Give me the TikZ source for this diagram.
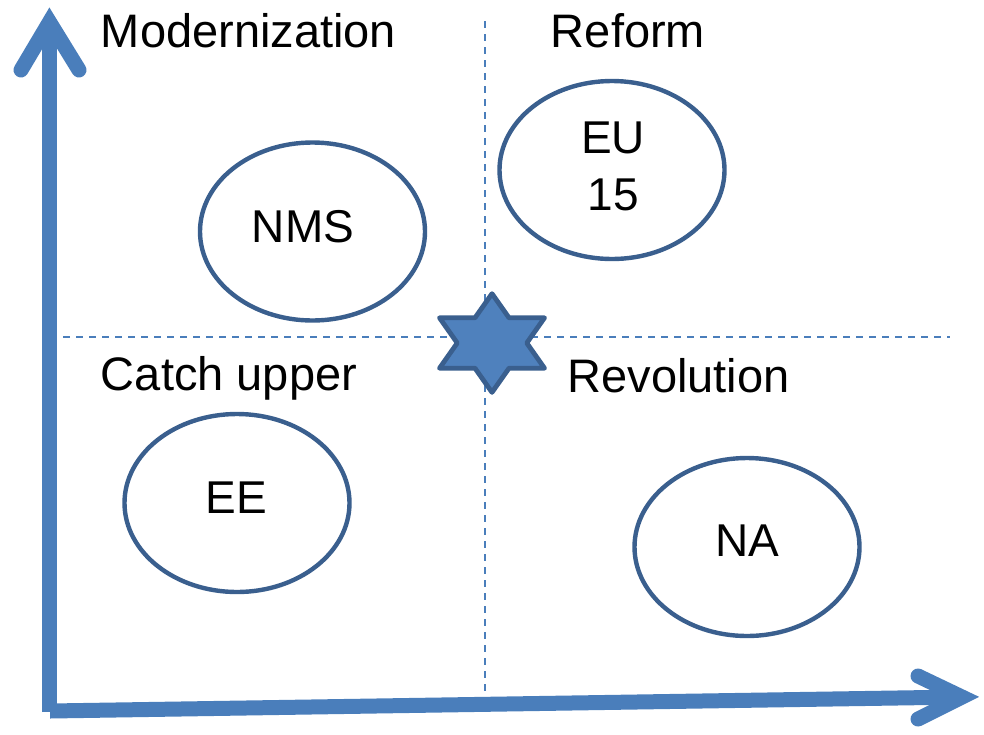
\documentclass[tikz,border=0pt]{standalone}
\usepackage{fontspec}
\setmainfont{Liberation Sans}
\usetikzlibrary{shapes.geometric}
\definecolor{axisblue}{HTML}{4A7EBB}
\definecolor{starfill}{HTML}{4F81BD}
\definecolor{darkblue}{HTML}{3A5F8E}
\begin{document}
\begin{tikzpicture}[x=1pt,y=-1pt,
  axisline/.style={draw=axisblue,line width=15pt},
  headline/.style={draw=axisblue,line width=15pt,line cap=round,miter limit=10},
  divider/.style={draw=axisblue,line width=1.4pt,dash pattern=on 7pt off 6pt},
  blob/.style={ellipse,draw=darkblue,line width=4.4pt,fill=white,minimum width=225pt,minimum height=178pt,inner sep=0pt},
  lbl/.style={font=\fontsize{47pt}{57pt}\selectfont,inner sep=0pt,anchor=base},
  txt/.style={font=\fontsize{46pt}{57pt}\selectfont,inner sep=0pt,anchor=base}]
\useasboundingbox (0,0) rectangle (984,734);
% named coordinates
\coordinate (ybot) at (49.5,712);
\coordinate (ytip) at (49.5,22);
\coordinate (yl) at (21,70);
\coordinate (yr) at (79,70);
\coordinate (xleft) at (50,711);
\coordinate (xtip) at (962,697);
\coordinate (xu) at (918,676);
\coordinate (xd) at (918,719);
\coordinate (vtop) at (485,21);
\coordinate (vbot) at (485,695);
\coordinate (hleft) at (63,337);
\coordinate (hright) at (950,337);
\coordinate (starc) at (492,343);
% dividers
\draw[divider] (vtop) -- (vbot);
\draw[divider] (hleft) -- (hright);
% axes
\draw[axisline] (ybot) -- (ytip);
\draw[headline] (yl) -- (ytip) -- (yr);
\draw[axisline] (xleft) -- (xtip);
\draw[headline] (xu) -- (xtip) -- (xd);
% ellipses
\node[blob] (nms) at (312.5,231.5) {};
\node[blob] (eu) at (612,170) {};
\node[blob] (ee) at (237,503) {};
\node[blob] (na) at (747,547) {};
\node[txt] (nmst) at (303,242) {NMS};
\node[txt] (eut1) at (613,153) {EU};
\node[txt] (eut2) at (613,210) {15};
\node[txt] (eet) at (236.5,513) {EE};
\node[txt] (nat) at (747.5,556) {NA};
% quadrant labels
\node[lbl] (mod) at (248.5,47) {Modernization};
\node[lbl] (ref) at (628,47) {Reform};
\node[lbl] (cat) at (229,390) {Catch upper};
\node[lbl] (rev) at (678.5,392) {Revolution};
% star
\begin{scope}[shift={(starc)},x=1.05pt,y=-1.05pt]
\draw[fill=starfill,draw=darkblue,line width=4.8pt,line join=round]
  (0,-47) -- (16.2,-24) -- (50,-24) -- (33.1,0) -- (50,24) -- (16.2,24)
  -- (0,47) -- (-16.2,24) -- (-50,24) -- (-33.1,0) -- (-50,-24) -- (-16.2,-24) -- cycle;
\end{scope}
\end{tikzpicture}
\end{document}
